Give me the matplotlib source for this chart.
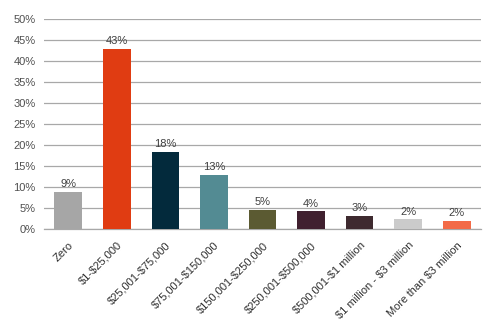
import matplotlib
matplotlib.use('Agg')
from matplotlib import pyplot as plt
from matplotlib.ticker import MultipleLocator, FuncFormatter

categories = ['Zero', '$1-$25,000', '$25,001-$75,000', '$75,001-$150,000',
              '$150,001-$250,000', '$250,001-$500,000', '$500,001-$1 million',
              '$1 million - $3 million', 'More than $3 million']
shares = [8.8, 42.9, 18.4, 12.8, 4.6, 4.2, 3.2, 2.3, 2.0]
colors = ['#a6a6a6', '#e03c12', '#032a3c', '#538b93', '#5b5a32',
          '#40202f', '#3e2a2f', '#cbcbcb', '#f36b48']

plt.rcParams['font.family'] = ['Liberation Sans', 'DejaVu Sans']

fig = plt.figure(figsize=(5.03, 3.24), dpi=100)
ax = fig.add_axes([44 / 503, 95 / 324, 437 / 503, 210 / 324])

x = range(len(categories))
bars = ax.bar(x, shares, width=0.57, color=colors, zorder=3)

# value labels above each bar
for b, v in zip(bars, shares):
    ax.annotate('%d%%' % round(v), (b.get_x() + b.get_width() / 2, v),
                xytext=(0, 2), textcoords='offset points',
                ha='center', va='bottom', fontsize=8, color='#404040')

ax.set_xlim(-0.5, len(categories) - 0.5)
ax.set_ylim(0, 50)
ax.yaxis.set_major_locator(MultipleLocator(5))
ax.yaxis.set_major_formatter(FuncFormatter(lambda v, p: '%d%%' % v))
ax.grid(axis='y', color='#a8a8a8', linewidth=0.9, zorder=0)

for s in ['top', 'right', 'left']:
    ax.spines[s].set_visible(False)
ax.spines['bottom'].set_color('#a8a8a8')
ax.spines['bottom'].set_linewidth(0.9)

ax.set_xticks(list(x))
ax.set_xticklabels([c.replace('$', r'\$') for c in categories], rotation=45,
                   ha='right', rotation_mode='anchor', fontsize=8,
                   color='#303030')
ax.tick_params(axis='x', length=0, pad=8)
ax.tick_params(axis='y', length=0, pad=6, labelsize=8, labelcolor='#505050')

fig.savefig('out.png', dpi=100)
